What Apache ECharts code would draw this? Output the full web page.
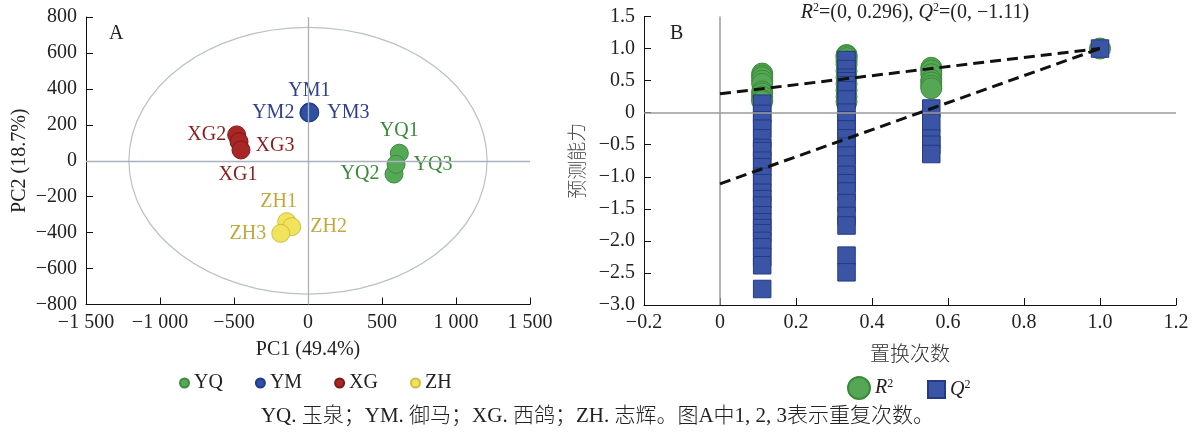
<!DOCTYPE html>
<html>
<head>
<meta charset="utf-8">
<script src="https://cdn.jsdelivr.net/npm/echarts@6/dist/echarts.min.js"></script>
<style>html,body{margin:0;padding:0;background:#fff;}#c{width:1195px;height:432px;}</style>
</head>
<body>
<div id="c"></div>
<script>
// ---------- Panel A: PCA scores ----------
const YQ_points = [[617, 42], [581, -74], [595, -20]];
const YQ_names = ['YQ1', 'YQ2', 'YQ3'];
const YM_points = [[10, 272], [6, 266], [12, 268]];
const YM_names = ['YM1', 'YM2', 'YM3'];
const XG_points = [[-482, 144], [-466, 106], [-453, 60]];
const XG_names = ['XG2', 'XG3', 'XG1'];
const ZH_points = [[-144, -339], [-110, -367], [-184, -404]];
const ZH_names = ['ZH1', 'ZH2', 'ZH3'];
const groupNames = ['YQ', 'YM', 'XG', 'ZH'];
const ellipseAxes = [1210, 742]; // Hotelling T2 ellipse semi-axes (PC1, PC2)

// ---------- Panel B: permutation test ----------
const permX = [0.111, 0.333, 0.556, 1.0];
const r2Perm1 = [0.61, 0.58, 0.55, 0.50, 0.45, 0.33, 0.30, 0.25, 0.20, 0.18];
const r2Perm2 = [0.90, 0.88, 0.85, 0.80, 0.75, 0.65, 0.55, 0.45, 0.35, 0.25, 0.17];
const r2Perm3 = [0.70, 0.66, 0.60, 0.51, 0.47, 0.42, 0.38];
const r2Orig = [1.0];
const q2Perm1 = [0.14, -0.02, -0.12, -0.25, -0.40, -0.55, -0.60, -0.75, -0.85, -1.00, -1.10, -1.25, -1.35, -1.45, -1.60, -1.71, -1.80, -1.88, -2.00, -2.10, -2.25, -2.38, -2.75];
const q2Perm2 = [0.82, 0.68, 0.545, 0.49, 0.43, 0.35, 0.205, 0.0, -0.12, -0.26, -0.40, -0.53, -0.67, -0.81, -0.97, -1.10, -1.23, -1.41, -1.61, -1.76, -2.23, -2.49];
const q2Perm3 = [0.065, -0.155, -0.405, -0.50, -0.645];
const q2Orig = [1.0];
const r2Intercept = 0.296;
const q2Intercept = -1.11;

const serif = '"Liberation Serif", "Times New Roman", "Noto Sans CJK SC", serif';
const cjk = '"Noto Sans CJK SC", "Liberation Serif", sans-serif';
const textColor = '#222';

function pts(x, arr) { return arr.map(v => [x, v]); }
const r2Data = [].concat(pts(permX[0], r2Perm1), pts(permX[1], r2Perm2), pts(permX[2], r2Perm3), pts(permX[3], r2Orig));
const q2Data = [].concat(pts(permX[0], q2Perm1), pts(permX[1], q2Perm2), pts(permX[2], q2Perm3), pts(permX[3], q2Orig));

const labelCfg = {
  YQ1: { position: 'top', distance: 3 }, YQ2: { position: 'left', distance: 5 }, YQ3: { position: 'right', distance: 8 },
  YM1: { position: 'top', distance: 2 }, YM2: { position: 'left', distance: 5 }, YM3: { position: 'right', distance: 8 },
  XG2: { position: 'left', distance: 1 }, XG3: { position: 'right', distance: 7, offset: [0, 4] }, XG1: { position: 'bottom', distance: 5, offset: [-3, 0] },
  ZH1: { position: 'top', distance: 0, offset: [-8, 0] }, ZH2: { position: 'right', distance: 9 }, ZH3: { position: 'left', distance: 5 }
};
const groupStyle = {
  YQ: { fill: '#55a855', border: '#3d8c3d', label: '#3a8a3a' },
  YM: { fill: '#3050a2', border: '#22398a', label: '#2f3f90' },
  XG: { fill: '#a82626', border: '#7e1818', label: '#8c1c1c' },
  ZH: { fill: '#f1e45c', border: '#cdbd42', label: '#c2a83c' }
};
function groupSeries(name, points, names) {
  const st = groupStyle[name];
  return {
    name: name, type: 'scatter', xAxisIndex: 0, yAxisIndex: 0, z: 4,
    symbol: 'circle', symbolSize: 18,
    itemStyle: { color: st.fill, borderColor: st.border, borderWidth: 1, opacity: 1 },
    data: points.map((p, i) => ({
      value: p, name: names[i],
      label: Object.assign({ show: true, formatter: names[i], color: st.label, fontFamily: serif, fontSize: 20 }, labelCfg[names[i]])
    }))
  };
}

function fmtThousands(v) {
  const s = String(Math.abs(Math.round(v))).replace(/\B(?=(\d{3})+(?!\d))/g, ' ');
  return (v < 0 ? '\u2212' : '') + s;
}
function fmtDec(v) {
  if (Math.abs(v) < 1e-9) return '0';
  return (v < 0 ? '\u2212' : '') + Math.abs(v).toFixed(1);
}

const axisCommon = {
  type: 'value',
  axisLine: { show: true, onZero: false, lineStyle: { color: '#111', width: 1 } },
  axisTick: { show: true, inside: true, length: 7, lineStyle: { color: '#111' } },
  splitLine: { show: false },
  nameTextStyle: { fontFamily: serif, fontSize: 20, color: textColor },
  nameLocation: 'middle'
};
const supRich = {
  i: { fontFamily: serif, fontSize: 20, fontStyle: 'italic', color: textColor },
  s: { fontFamily: serif, fontSize: 12, color: textColor, padding: [0, 0, 9, 0] }
};

const chart = echarts.init(document.getElementById('c'));
chart.setOption({
  animation: false,
  backgroundColor: '#fff',
  grid: [
    { left: 86, top: 17, width: 444, height: 287.5 },
    { left: 644, top: 16.5, width: 532, height: 288.5 }
  ],
  title: [
    { text: 'A', left: 104, top: 19, textStyle: { fontFamily: serif, fontSize: 20, fontWeight: 'normal', color: textColor } },
    { text: 'B', left: 665, top: 19, textStyle: { fontFamily: serif, fontSize: 20, fontWeight: 'normal', color: textColor } },
    {
      text: '{i|R}{s|2}=(0, 0.296), {i|Q}{s|2}=(0, \u22121.11)', left: 910, textAlign: 'center', top: -3,
      textStyle: { fontFamily: serif, fontSize: 20, fontWeight: 'normal', color: textColor, rich: supRich }
    }
  ],
  legend: [
    {
      data: groupNames, left: 174, top: 368, orient: 'horizontal', icon: 'circle',
      itemWidth: 9, itemHeight: 9, itemGap: 32,
      textStyle: { fontFamily: serif, fontSize: 20, color: textColor }
    },
    {
      data: ['R2'], left: 842, top: 371, icon: 'circle', itemWidth: 22, itemHeight: 22,
      formatter: () => '{i|R}{s|2}',
      textStyle: { fontFamily: serif, fontSize: 20, color: textColor, rich: supRich }
    },
    {
      data: ['Q2'], left: 922, top: 374, icon: 'rect', itemWidth: 17, itemHeight: 17,
      formatter: () => '{i|Q}{s|2}',
      textStyle: { fontFamily: serif, fontSize: 20, color: textColor, rich: supRich }
    }
  ],
  xAxis: [
    Object.assign({}, axisCommon, {
      gridIndex: 0, min: -1500, max: 1500, interval: 500,
      axisLabel: { formatter: fmtThousands, fontFamily: serif, fontSize: 20, color: textColor, margin: 8 },
      name: 'PC1 (49.4%)', nameGap: 35
    }),
    Object.assign({}, axisCommon, {
      gridIndex: 1, min: -0.2, max: 1.2, interval: 0.2,
      axisLabel: { formatter: fmtDec, fontFamily: serif, fontSize: 20, color: textColor, margin: 8 },
      name: '置换次数', nameGap: 38, nameTextStyle: { fontFamily: cjk, fontSize: 20, fontWeight: 300, color: '#333' }
    })
  ],
  yAxis: [
    Object.assign({}, axisCommon, {
      gridIndex: 0, min: -800, max: 800, interval: 200,
      axisLabel: { formatter: fmtThousands, fontFamily: serif, fontSize: 20, color: textColor, margin: 9 },
      name: 'PC2 (18.7%)', nameGap: 56
    }),
    Object.assign({}, axisCommon, {
      gridIndex: 1, min: -3, max: 1.5, interval: 0.5,
      axisLabel: { formatter: fmtDec, fontFamily: serif, fontSize: 20, color: textColor, margin: 9 },
      name: '预测能力', nameGap: 58, nameTextStyle: { fontFamily: cjk, fontSize: 19, fontWeight: 300, color: '#444' }
    })
  ],
  graphic: [
    {
      type: 'text', left: 'center', top: 406,
      style: { text: 'YQ. 玉泉；YM. 御马；XG. 西鸽；ZH. 志辉。图A中1, 2, 3表示重复次数。', font: '300 21px ' + serif, fill: textColor }
    }
  ],
  series: [
    {
      type: 'custom', xAxisIndex: 0, yAxisIndex: 0, z: 1, silent: true,
      data: [[0, 0]],
      renderItem: function (params, api) {
        const c = api.coord([api.value(0), api.value(1)]);
        const s = api.size(ellipseAxes);
        return { type: 'ellipse', shape: { cx: c[0], cy: c[1], rx: s[0], ry: s[1] }, style: { fill: 'none', stroke: '#b9c0c8', lineWidth: 1.2 } };
      }
    },
    {
      type: 'line', xAxisIndex: 0, yAxisIndex: 0, z: 1, data: [], silent: true,
      markLine: { silent: true, symbol: 'none', label: { show: false },
        lineStyle: { color: '#a9b1ba', width: 1.3, type: 'solid' },
        data: [{ xAxis: 0 }, { yAxis: 0 }] }
    },
    groupSeries('YQ', YQ_points, YQ_names),
    groupSeries('YM', YM_points, YM_names),
    groupSeries('XG', XG_points, XG_names),
    groupSeries('ZH', ZH_points, ZH_names),
    {
      type: 'line', xAxisIndex: 1, yAxisIndex: 1, z: 1, data: [], silent: true,
      markLine: { silent: true, symbol: 'none', label: { show: false },
        lineStyle: { color: '#9a9a9a', width: 1.5, type: 'solid' },
        data: [{ xAxis: 0 }, { yAxis: 0 }] }
    },
    {
      name: 'R2', type: 'scatter', xAxisIndex: 1, yAxisIndex: 1, z: 3,
      symbol: 'circle', symbolSize: 21,
      itemStyle: { color: '#55a655', borderColor: '#3b8a3b', borderWidth: 1, opacity: 1 },
      data: r2Data
    },
    {
      name: 'Q2', type: 'scatter', xAxisIndex: 1, yAxisIndex: 1, z: 4,
      symbol: 'rect', symbolSize: 17.5,
      itemStyle: { color: '#3a55a6', borderColor: '#263a82', borderWidth: 1, opacity: 1 },
      data: q2Data
    },
    {
      type: 'line', xAxisIndex: 1, yAxisIndex: 1, z: 6, symbol: 'none', silent: true,
      lineStyle: { color: '#111', width: 3, type: [11, 6] },
      data: [[0, r2Intercept], [permX[3], r2Orig[0]]]
    },
    {
      type: 'line', xAxisIndex: 1, yAxisIndex: 1, z: 6, symbol: 'none', silent: true,
      lineStyle: { color: '#111', width: 3, type: [11, 6] },
      data: [[0, q2Intercept], [permX[3], q2Orig[0]]]
    }
  ]
});
</script>
</body>
</html>
